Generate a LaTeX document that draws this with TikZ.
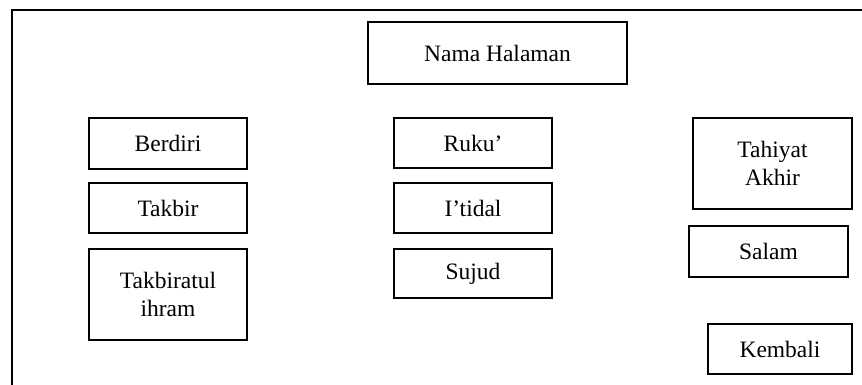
\documentclass[tikz,border=0pt]{standalone}
\usepackage{fontspec}
\setmainfont{Liberation Serif}
\begin{document}
\begin{tikzpicture}[x=1pt,y=-1pt,
  box/.style={draw=black, line width=2pt, fill=white, inner sep=0pt, align=center,
    font=\fontsize{23.5}{27.5}\selectfont}]
\clip (0,0) rectangle (862,385);
\useasboundingbox (0,0) rectangle (862,385);
\fill[white] (0,0) rectangle (862,385);
% outer frame (only top and left edges visible)
\draw[line width=2pt] (11.5,390) -- (11.5,10) -- (870,10);
\node[box, minimum width=259pt, minimum height=62pt] (nama) at (497.5,53) {Nama Halaman};
\node[box, minimum width=158pt, minimum height=51pt] (berdiri) at (168,143.5) {Berdiri};
\node[box, minimum width=158pt, minimum height=50pt] (takbir) at (168,208) {Takbir};
\node[box, minimum width=158pt, minimum height=91pt] (takbiratul) at (168,294.5) {Takbiratul\\ihram};
\node[box, minimum width=158pt, minimum height=50pt] (ruku) at (473,143) {Ruku’};
\node[box, minimum width=158pt, minimum height=50pt] (itidal) at (473,208) {I’tidal};
\node[box, minimum width=158pt, minimum height=49pt] (sujud) at (473,273.5) {Sujud};
\node[box, minimum width=159pt, minimum height=91pt] (tahiyat) at (772.5,163.5) {Tahiyat\\Akhir};
\node[box, minimum width=159pt, minimum height=51pt] (salam) at (768.5,251.5) {Salam};
\node[box, minimum width=144pt, minimum height=50pt] (kembali) at (780,349) {Kembali};
\end{tikzpicture}
\end{document}
